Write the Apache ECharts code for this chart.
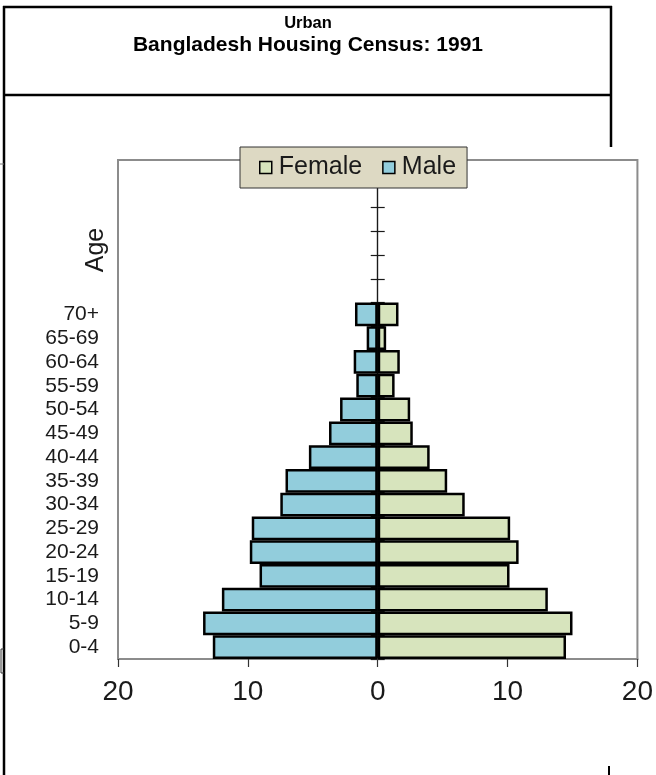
<!DOCTYPE html>
<html>
<head>
<meta charset="utf-8">
<title>Urban population pyramid, Bangladesh Housing Census 1991</title>
<script src="https://cdn.jsdelivr.net/npm/echarts@6/dist/echarts.min.js"></script>
<style>
  html, body { margin: 0; padding: 0; background: #fff; }
  #chart { width: 656px; height: 775px; }
</style>
</head>
<body>
<div id="chart"></div>
<script>
// Age groups, youngest first (bottom of the pyramid)
const ageGroups = ['0-4', '5-9', '10-14', '15-19', '20-24', '25-29', '30-34',
  '35-39', '40-44', '45-49', '50-54', '55-59', '60-64', '65-69', '70+'];

// Share of urban population (%) per age group
const maleShare = [12.7, 13.45, 12.0, 9.1, 9.85, 9.7, 7.5, 7.1, 5.3, 3.75, 2.9, 1.65, 1.85, 0.85, 1.75];
const femaleShare = [14.5, 15.0, 13.1, 10.15, 10.85, 10.2, 6.7, 5.35, 4.0, 2.7, 2.5, 1.3, 1.7, 0.65, 1.6];

// Value axis range and step
const axisMin = -20;
const axisMax = 20;
const axisStep = 10;

// Blank rows kept above the oldest group
const blankRows = 6;

const FONT = '"Liberation Sans", Arial, sans-serif';
const rows = ageGroups.concat(new Array(blankRows).fill(''));

const chart = echarts.init(document.getElementById('chart'), null, { renderer: 'canvas' });

// Category axis pinned to x = 0; one copy per side gives crossing ticks
const zeroAxis = (side) => ({
  type: 'category',
  data: rows,
  position: side,
  axisLine: { show: true, onZero: true, onZeroAxisIndex: 0, lineStyle: { color: '#1a1a1a', width: 1.2 } },
  axisTick: { show: true, interval: 0, length: 7, lineStyle: { color: '#1a1a1a', width: 1.2 } },
  axisLabel: { show: false },
  splitLine: { show: false }
});

chart.setOption({
  animation: false,
  backgroundColor: '#fff',
  title: [
    {
      text: 'Urban', left: 308, top: 23, padding: 0,
      textAlign: 'center', textVerticalAlign: 'middle',
      textStyle: { fontFamily: FONT, fontSize: 16.5, fontWeight: 'bold', color: '#000' }
    },
    {
      text: 'Bangladesh Housing Census: 1991', left: 308, top: 45, padding: 0,
      textAlign: 'center', textVerticalAlign: 'middle',
      textStyle: { fontFamily: FONT, fontSize: 21, fontWeight: 'bold', color: '#000' }
    }
  ],
  legend: {
    data: ['Female', 'Male'],
    left: 240, top: 147,
    orient: 'horizontal',
    backgroundColor: '#ddd9c3',
    borderColor: '#333',
    borderWidth: 1,
    padding: [8, 11, 8, 19],
    itemGap: 20,
    itemWidth: 12,
    itemHeight: 12,
    icon: 'rect',
    itemStyle: { borderColor: '#000', borderWidth: 1.5 },
    textStyle: { fontFamily: FONT, fontSize: 25, color: '#1a1a1a', lineHeight: 24, padding: [0, 0, 0, 2] }
  },
  grid: {
    left: 118, right: 17, top: 160, bottom: 116,
    show: true, borderColor: '#8c8c8c', borderWidth: 2, backgroundColor: 'transparent'
  },
  xAxis: {
    type: 'value',
    min: axisMin, max: axisMax, interval: axisStep,
    axisLine: { show: true, onZero: false, lineStyle: { color: '#8c8c8c', width: 2 } },
    axisTick: { show: true, length: 8, lineStyle: { color: '#333', width: 1.2 } },
    axisLabel: {
      fontFamily: FONT, fontSize: 28, color: '#1a1a1a', margin: 19,
      formatter: (v) => String(Math.abs(v))
    },
    splitLine: { show: false }
  },
  yAxis: [
    {
      type: 'category',
      data: rows,
      position: 'left',
      axisLine: { show: false, onZero: false },
      axisTick: { show: false },
      axisLabel: { interval: 0, fontFamily: FONT, fontSize: 21, color: '#1a1a1a', margin: 19 },
      splitLine: { show: false }
    },
    zeroAxis('left'),
    zeroAxis('right')
  ],
  graphic: [
    // frame rules around the title block
    { type: 'line', silent: true, shape: { x1: 3, y1: 7, x2: 612, y2: 7 }, style: { stroke: '#000', lineWidth: 2.5 } },
    { type: 'line', silent: true, shape: { x1: 3, y1: 95, x2: 612, y2: 95 }, style: { stroke: '#000', lineWidth: 2.5 } },
    { type: 'line', silent: true, shape: { x1: 4, y1: 6, x2: 4, y2: 775 }, style: { stroke: '#000', lineWidth: 2.5 } },
    { type: 'line', silent: true, shape: { x1: 611, y1: 6, x2: 611, y2: 147 }, style: { stroke: '#000', lineWidth: 2.5 } },
    { type: 'line', silent: true, shape: { x1: 609, y1: 766, x2: 609, y2: 775 }, style: { stroke: '#000', lineWidth: 2 } },
    { type: 'line', silent: true, shape: { x1: 0, y1: 164, x2: 4, y2: 164 }, style: { stroke: '#777', lineWidth: 1 } },
    { type: 'polyline', silent: true, shape: { points: [[4, 649], [1, 649], [1, 673], [4, 673]] }, style: { stroke: '#333', lineWidth: 1, fill: null } },
    // vertical axis title
    {
      type: 'text', silent: true, x: 96, y: 250, rotation: Math.PI / 2,
      style: { text: 'Age', fontFamily: FONT, fontSize: 25, fill: '#1a1a1a', align: 'center', verticalAlign: 'middle' }
    }
  ],
  series: [
    {
      name: 'Female',
      type: 'bar',
      data: femaleShare,
      barGap: '-100%',
      barCategoryGap: '0%',
      itemStyle: { color: '#d7e4bd', borderColor: '#000', borderWidth: 2.5 }
    },
    {
      name: 'Male',
      type: 'bar',
      data: maleShare.map((v) => -v),
      barGap: '-100%',
      barCategoryGap: '0%',
      itemStyle: { color: '#92cddc', borderColor: '#000', borderWidth: 2.5 }
    }
  ]
});
</script>
</body>
</html>
